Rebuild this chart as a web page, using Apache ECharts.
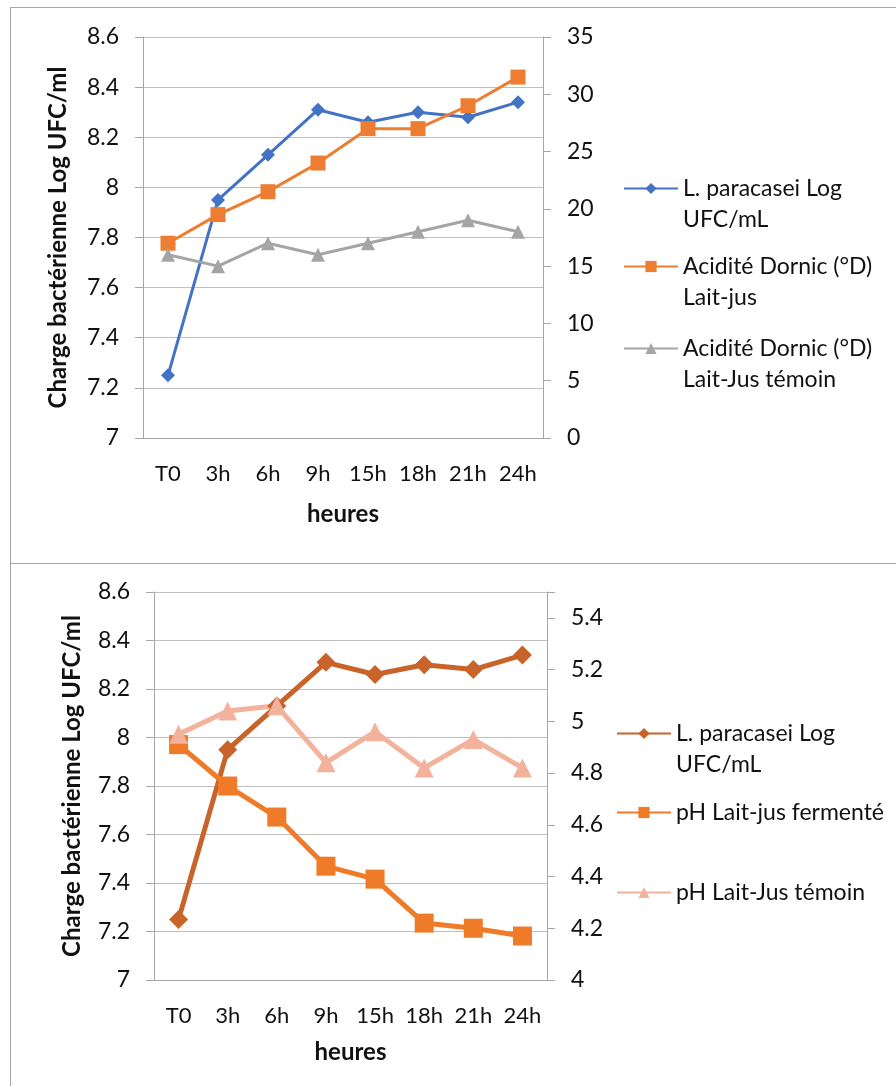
<!DOCTYPE html>
<html>
<head>
<meta charset="utf-8">
<script src="https://cdn.jsdelivr.net/npm/echarts@6/dist/echarts.min.js"></script>
<style>
  html, body { margin: 0; padding: 0; background: #fff; }
  #main { width: 896px; height: 1086px; }
  .trait { position: absolute; background: #a6a6a6; z-index: 10; }
</style>
</head>
<body>
<div class="trait" style="left:10px; top:7px; width:1px; height:1079px;"></div>
<div class="trait" style="left:10px; top:7px; width:886px; height:1px;"></div>
<div class="trait" style="left:10px; top:563px; width:886px; height:1px;"></div>
<div id="main"></div>
<script>
  /* données */
  var heures = ['T0', '3h', '6h', '9h', '15h', '18h', '21h', '24h'];
  var logUFC = [7.25, 7.95, 8.13, 8.31, 8.26, 8.30, 8.28, 8.34];
  var dornicLaitJus = [17, 19.5, 21.5, 24, 27, 27, 29, 31.5];
  var dornicTemoin = [16, 15, 17, 16, 17, 18, 19, 18];
  var phFermente = [4.91, 4.75, 4.63, 4.44, 4.39, 4.22, 4.20, 4.17];
  var phTemoin = [4.95, 5.04, 5.06, 4.84, 4.96, 4.82, 4.93, 4.82];
  var phMaxLabel = 5.4;

  var nomLog = 'L. paracasei Log\nUFC/mL';
  var nomDornic = 'Acidité Dornic (°D)\nLait-jus';
  var nomDornicTemoin = 'Acidité Dornic (°D)\nLait-Jus témoin';
  var nomPh = 'pH Lait-jus fermenté';
  var nomPhTemoin = 'pH Lait-Jus témoin';

  var police = 'Lato';
  var gris = '#a6a6a6';

  // axe y commun
  function axeY(grid, pos, min, max, interval, extra) {
    var a = {
      type: 'value', gridIndex: grid, position: pos,
      min: min, max: max, interval: interval,
      axisLine: { show: true, lineStyle: { color: gris } },
      axisTick: { show: true, length: 8, lineStyle: { color: gris } },
      axisLabel: { color: '#111', fontSize: 23, fontFamily: police, margin: 24 },
      splitLine: { show: false }
    };
    for (var k in extra) a[k] = extra[k];
    return a;
  }

  function axeX(grid, gap) {
    return {
      type: 'category', gridIndex: grid, data: heures,
      name: 'heures', nameLocation: 'middle', nameGap: gap,
      nameTextStyle: { color: '#111', fontSize: 24, fontWeight: 'bold', fontFamily: police },
      axisLine: { lineStyle: { color: gris } },
      axisTick: { show: false },
      axisLabel: { color: '#111', fontSize: 22, fontFamily: police, margin: 25, interval: 0 }
    };
  }

  function titreY(gap) {
    return {
      name: 'Charge bactérienne Log UFC/ml', nameLocation: 'middle', nameGap: gap,
      nameTextStyle: { color: '#111', fontSize: 24, fontWeight: 'bold', fontFamily: police },
      splitLine: { show: true, lineStyle: { color: '#bfbfbf' } }
    };
  }

  // légende, une par élément (ligne vide devant pour aligner la 1re ligne sur le symbole)
  function legende(nom, left, top, deuxLignes) {
    return {
      data: [nom], left: left, top: top, orient: 'vertical', padding: 0,
      itemWidth: 54, itemHeight: 14,
      formatter: function (n) { return deuxLignes ? ' \n' + n : n; },
      textStyle: { color: '#111', fontSize: 23, fontFamily: police, lineHeight: 31 }
    };
  }

  function serie(nom, data, x, y, couleur, symbole, taille, epaisseur) {
    return {
      name: nom, type: 'line', data: data, xAxisIndex: x, yAxisIndex: y,
      symbol: symbole, symbolSize: taille, color: couleur,
      lineStyle: { width: epaisseur, color: couleur },
      itemStyle: { color: couleur },
      animation: false
    };
  }

  var myChart = echarts.init(document.getElementById('main'));

  var option = {
    backgroundColor: '#fff',
    grid: [
      { left: 143, top: 37, width: 400, height: 401 },
      { left: 154, top: 592, width: 393, height: 388 }
    ],
    legend: [
      legende(nomLog, 623, 142, true),
      legende(nomDornic, 623, 220, true),
      legende(nomDornicTemoin, 623, 302, true),
      legende(nomLog + ' ', 616, 687, true),
      legende(nomPh, 616, 797, false),
      legende(nomPhTemoin, 616, 877, false)
    ],
    xAxis: [axeX(0, 64), axeX(1, 60)],
    yAxis: [
      axeY(0, 'left', 7, 8.6, 0.2, titreY(73)),
      axeY(0, 'right', 0, 35, 5, {}),
      axeY(1, 'left', 7, 8.6, 0.2, titreY(70)),
      axeY(1, 'right', 4, 5.5, 0.2, {
        axisLabel: {
          color: '#111', fontSize: 23, fontFamily: police, margin: 24,
          formatter: function (v) { return v > phMaxLabel + 0.01 ? '' : String(v); }
        }
      })
    ],
    series: [
      serie(nomLog, logUFC, 0, 0, '#4472c4', 'diamond', 14, 3),
      serie(nomDornic, dornicLaitJus, 0, 1, '#ed7d31', 'rect', 15, 3),
      serie(nomDornicTemoin, dornicTemoin, 0, 1, '#a5a5a5', 'triangle', 14, 3),
      serie(nomLog + ' ', logUFC, 1, 2, '#c8632a', 'diamond', 19, 5),
      serie(nomPh, phFermente, 1, 3, '#ef7b29', 'rect', 19, 5),
      serie(nomPhTemoin, phTemoin, 1, 3, '#f3b29c', 'triangle', 19, 5)
    ]
  };

  myChart.setOption(option);
</script>
</body>
</html>
